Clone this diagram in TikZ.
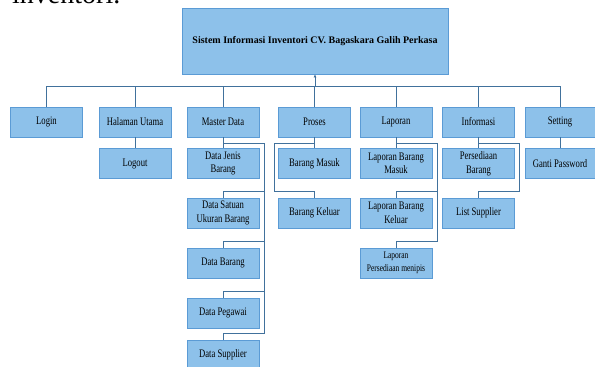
\documentclass[tikz,border=0pt]{standalone}
\usepackage{fontspec}
\setmainfont{Liberation Serif}
\newfontfamily\boxfont[FakeStretch=0.75]{Liberation Serif}
\definecolor{menufill}{RGB}{141,193,234}
\definecolor{menuedge}{RGB}{91,155,213}
\definecolor{menuline}{RGB}{65,113,156}
\usetikzlibrary{arrows.meta,positioning,calc}

\begin{document}
\begin{tikzpicture}[x=1pt, y=-1pt,
    menu/.style={draw=menuedge, fill=menufill, line width=0.8pt, minimum width=72pt, minimum height=30pt,
        inner sep=1pt, align=center, font=\boxfont\fontsize{11.5}{13.5}\selectfont},
    link/.style={draw=menuline, line width=0.7pt}]
    \useasboundingbox (0,0) rectangle (595,367);

    % Page text above the chart
    \node[anchor=base west, inner sep=0pt, font=\fontsize{28}{30}\selectfont] (pagetext) at (12,3) {inventori.};

    % Root
    \node[menu, minimum width=266pt, minimum height=66pt, font=\fontsize{10}{12}\selectfont\bfseries] (root) at (315,41)
        {Sistem Informasi Inventori CV. Bagaskara Galih Perkasa};

    % Main menu
    \node[menu] (login) at (46.5,122) {Login};
    \node[menu] (halaman) at (135,122) {Halaman Utama};
    \node[menu] (master) at (223,122) {Master Data};
    \node[menu] (proses) at (314.5,122) {Proses};
    \node[menu] (laporan) at (396,122) {Laporan};
    \node[menu] (informasi) at (478.5,122) {Informasi};
    \node[menu, minimum width=70pt] (setting) at (560,122) {Setting};

    % Sub menus
    \node[menu] (logout) at (135,163.5) {Logout};
    \node[menu] (jenis) at (223,163.5) {Data Jenis\\Barang};
    \node[menu] (satuan) at (223,213) {Data Satuan\\Ukuran Barang};
    \node[menu] (barang) at (223,263) {Data Barang};
    \node[menu] (pegawai) at (223,313) {Data Pegawai};
    \node[menu] (supplier) at (223,355) {Data Supplier};
    \node[menu] (masuk) at (314.5,163.5) {Barang Masuk};
    \node[menu] (keluar) at (314.5,213) {Barang Keluar};
    \node[menu] (lapmasuk) at (396,163.5) {Laporan Barang\\Masuk};
    \node[menu] (lapkeluar) at (396,213) {Laporan Barang\\Keluar};
    \node[menu, font=\boxfont\fontsize{10}{13}\selectfont] (lapmenipis) at (396,263) {Laporan\\Persediaan menipis};
    \node[menu] (persediaan) at (478.5,163.5) {Persediaan\\Barang};
    \node[menu] (listsupplier) at (478.5,213) {List Supplier};
    \node[menu, minimum width=70pt] (ganti) at (560,163.5) {Ganti Password};

    % Bus to the root
    \coordinate (busleft) at (46.5,86);
    \coordinate (busright) at (560,86);
    \draw[link] (busleft) -- (busright);
    \foreach \m in {login,halaman,master,proses,laporan,informasi,setting}
        \draw[link] (\m.north) -- (\m.north |- busleft);
    \draw[link, -{Latex[length=3pt,width=3pt]}] (root.south |- busleft) -- (root.south);

    % Straight links
    \draw[link] (halaman) -- (logout);
    \draw[link] (master) -- (jenis);
    \draw[link] (proses) -- (masuk);
    \draw[link] (laporan) -- (lapmasuk);
    \draw[link] (informasi) -- (persediaan);
    \draw[link] (setting) -- (ganti);

    % Side spines
    \coordinate (masterspine) at (264,143);
    \coordinate (prosesspine) at (274,143);
    \coordinate (laporanspine) at (437,143);
    \coordinate (infospine) at (519,143);
    \draw[link] (master.south) |- (masterspine);
    \draw[link] (proses.south) |- (prosesspine);
    \draw[link] (laporan.south) |- (laporanspine);
    \draw[link] (informasi.south) |- (infospine);
    \foreach \s in {satuan,barang,pegawai,supplier}
        \draw[link] (masterspine) |- ([yshift=6pt]\s.north) -- (\s.north);
    \draw[link] (prosesspine) |- ([yshift=6pt]keluar.north) -- (keluar.north);
    \foreach \s in {lapkeluar,lapmenipis}
        \draw[link] (laporanspine) |- ([yshift=6pt]\s.north) -- (\s.north);
    \draw[link] (infospine) |- ([yshift=6pt]listsupplier.north) -- (listsupplier.north);
\end{tikzpicture}
\end{document}
